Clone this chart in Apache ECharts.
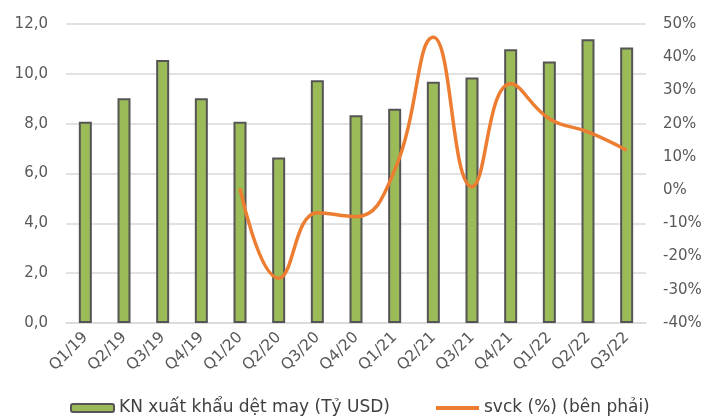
<!DOCTYPE html>
<html><head><meta charset="utf-8">
<script src="https://cdn.jsdelivr.net/npm/echarts@6/dist/echarts.min.js"></script>
<style>html,body{margin:0;padding:0;background:#fff}#c{width:709px;height:417px}</style>
</head><body><div id="c"></div>
<script>
const categories = ['Q1/19','Q2/19','Q3/19','Q4/19','Q1/20','Q2/20','Q3/20','Q4/20','Q1/21','Q2/21','Q3/21','Q4/21','Q1/22','Q2/22','Q3/22'];
const exportValues = [8.08, 9.02, 10.56, 9.02, 8.08, 6.64, 9.74, 8.34, 8.6, 9.68, 9.85, 10.99, 10.5, 11.39, 11.06];
const yoyPercent = [null, null, null, null, 0.5, -26.5, -6.8, -8, 6, 46, 1, 32, 21.5, 17.5, 12];
const barName = 'KN xuất khẩu dệt may (Tỷ USD)';
const lineName = 'svck (%) (bên phải)';

const font = 'DejaVu Sans';
const chart = echarts.init(document.getElementById('c'), null, {renderer:'canvas'});
chart.setOption({
  animation:false,
  textStyle:{fontFamily:font},
  grid:{left:66, right:63, top:24, bottom:94},
  legend:{
    top:398, left:70, padding:0, itemGap:44, itemWidth:43, itemHeight:8,
    textStyle:{fontSize:17, color:'#404040', fontFamily:font, lineHeight:20},
    data:[{name:barName}, {name:lineName, itemStyle:{opacity:0}, lineStyle:{width:4, color:'#ED7D31'}}]
  },
  xAxis:{
    type:'category', data:categories,
    axisLine:{show:true, lineStyle:{color:'#D9D9D9', width:1.5}},
    axisTick:{show:false},
    axisLabel:{rotate:45, color:'#595959', fontSize:15.5, margin:12, interval:0}
  },
  yAxis:[{
    type:'value', min:0, max:12, interval:2,
    axisLine:{show:false}, axisTick:{show:false},
    splitLine:{lineStyle:{color:'#D9D9D9', width:1.5}},
    axisLabel:{color:'#595959', fontSize:15, margin:18, formatter:v=>v.toFixed(1).replace('.',',')}
  },{
    type:'value', min:-40, max:50, interval:10,
    axisLine:{show:false}, axisTick:{show:false}, splitLine:{show:false},
    axisLabel:{color:'#595959', fontSize:15, margin:17, formatter:v=>v+'%'}
  }],
  series:[{
    name:barName, type:'bar', data:exportValues, barWidth:13,
    itemStyle:{color:'#9BBB59', borderColor:'#555555', borderWidth:2}
  },{
    name:lineName, type:'line', yAxisIndex:1, data:yoyPercent, smooth:0.45,
    showSymbol:false, symbol:'none',
    lineStyle:{color:'#ED7D31', width:3.5}, itemStyle:{color:'#ED7D31'}
  }]
});
</script></body></html>
